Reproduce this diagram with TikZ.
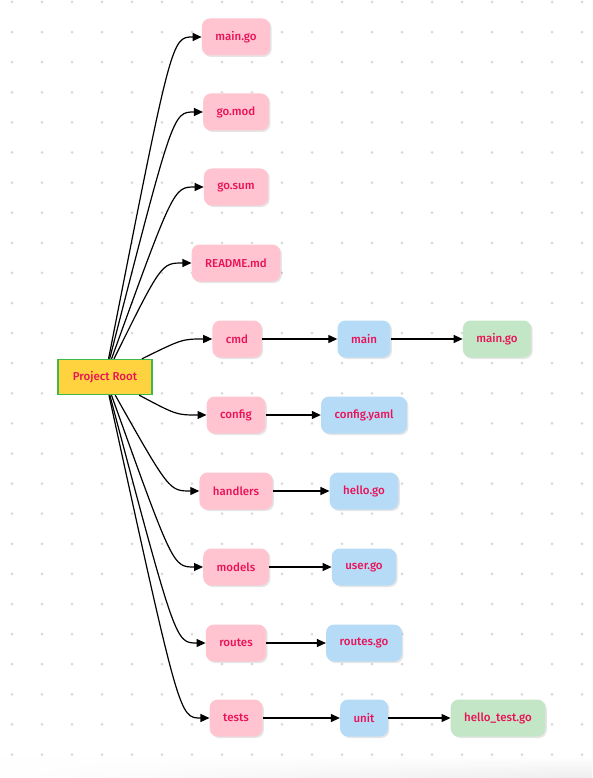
\documentclass[tikz,border=0pt]{standalone}
\usepackage{fontspec}
\setmainfont{Fira Sans}[UprightFont={* Medium}]
\usetikzlibrary{arrows.meta,shadows,calc,fadings}
\definecolor{pinkf}{HTML}{FFC4CF}
\definecolor{bluef}{HTML}{B5DBF7}
\definecolor{greenf}{HTML}{C3E6C6}
\definecolor{yelf}{HTML}{FFD33F}
\definecolor{yelb}{HTML}{3CB94A}
\definecolor{txt}{HTML}{EA1157}
\definecolor{dotc}{HTML}{D9D9D9}
\tikzset{
  box/.style={rounded corners=8pt, minimum height=37pt, inner xsep=13.5pt, text=txt,
    font=\fontsize{11.5}{13}\selectfont,
    drop shadow={shadow xshift=1.5pt, shadow yshift=-1.5pt, opacity=0.10, fill=black}},
  pinkbox/.style={box, fill=pinkf},
  bluebox/.style={box, fill=bluef},
  greenbox/.style={box, fill=greenf},
  rootbox/.style={fill=yelf, draw=yelb, line width=1.4pt, minimum height=35pt, minimum width=94pt,
    text=txt, font=\fontsize{11.5}{13}\selectfont},
  arr/.style={line width=1.2pt, -{Triangle[length=9pt,width=8pt]}}
}
\begin{document}
\begin{tikzpicture}[x=1pt,y=-1pt]
\useasboundingbox (0,0) rectangle (592,778);
\fill[white] (0,0) rectangle (592,778);
\shade[top color=white, bottom color=black!7, path fading=west] (0,756) rectangle (592,778);
\foreach \i in {0,...,19} {
  \foreach \j in {0,...,25} {
    \fill[dotc] (12+30*\i, 2+30.1*\j) circle (1.5pt);
  }
}
\node[rootbox] (root) at (105,377) {Project Root};
\node[pinkbox] (maingo) at (236,37) {main.go};
\node[pinkbox] (gomod) at (236,112) {go.mod};
\node[pinkbox] (gosum) at (236,187) {go.sum};
\node[pinkbox] (readme) at (236,263) {README.md};
\node[pinkbox] (cmd) at (237,339) {cmd};
\node[bluebox] (main) at (364,339) {main};
\node[greenbox] (cmdmain) at (497,339) {main.go};
\node[pinkbox] (config) at (236,415) {config};
\node[bluebox] (configyaml) at (364,415) {config.yaml};
\node[pinkbox] (handlers) at (236,491) {handlers};
\node[bluebox] (hellogo) at (364,491) {hello.go};
\node[pinkbox] (models) at (236,567) {models};
\node[bluebox] (usergo) at (364,567) {user.go};
\node[pinkbox] (routes) at (236,643) {routes};
\node[bluebox] (routesgo) at (364,643) {routes.go};
\node[pinkbox] (tests) at (236,718) {tests};
\node[bluebox] (unit) at (364,718) {unit};
\node[greenbox] (hellotest) at (498,718) {hello\_test.go};
\foreach \n in {maingo,gomod,gosum,readme,cmd,config,handlers,models,routes,tests} {
  \draw[arr] (root) .. controls ($(\n.west)+(-30,0)$) and ($(\n.west)+(-30,0)$) .. (\n.west);
}
\draw[arr] (cmd) -- (main);
\draw[arr] (main) -- (cmdmain);
\draw[arr] (config) -- (configyaml);
\draw[arr] (handlers) -- (hellogo);
\draw[arr] (models) -- (usergo);
\draw[arr] (routes) -- (routesgo);
\draw[arr] (tests) -- (unit);
\draw[arr] (unit) -- (hellotest);
\end{tikzpicture}
\end{document}
